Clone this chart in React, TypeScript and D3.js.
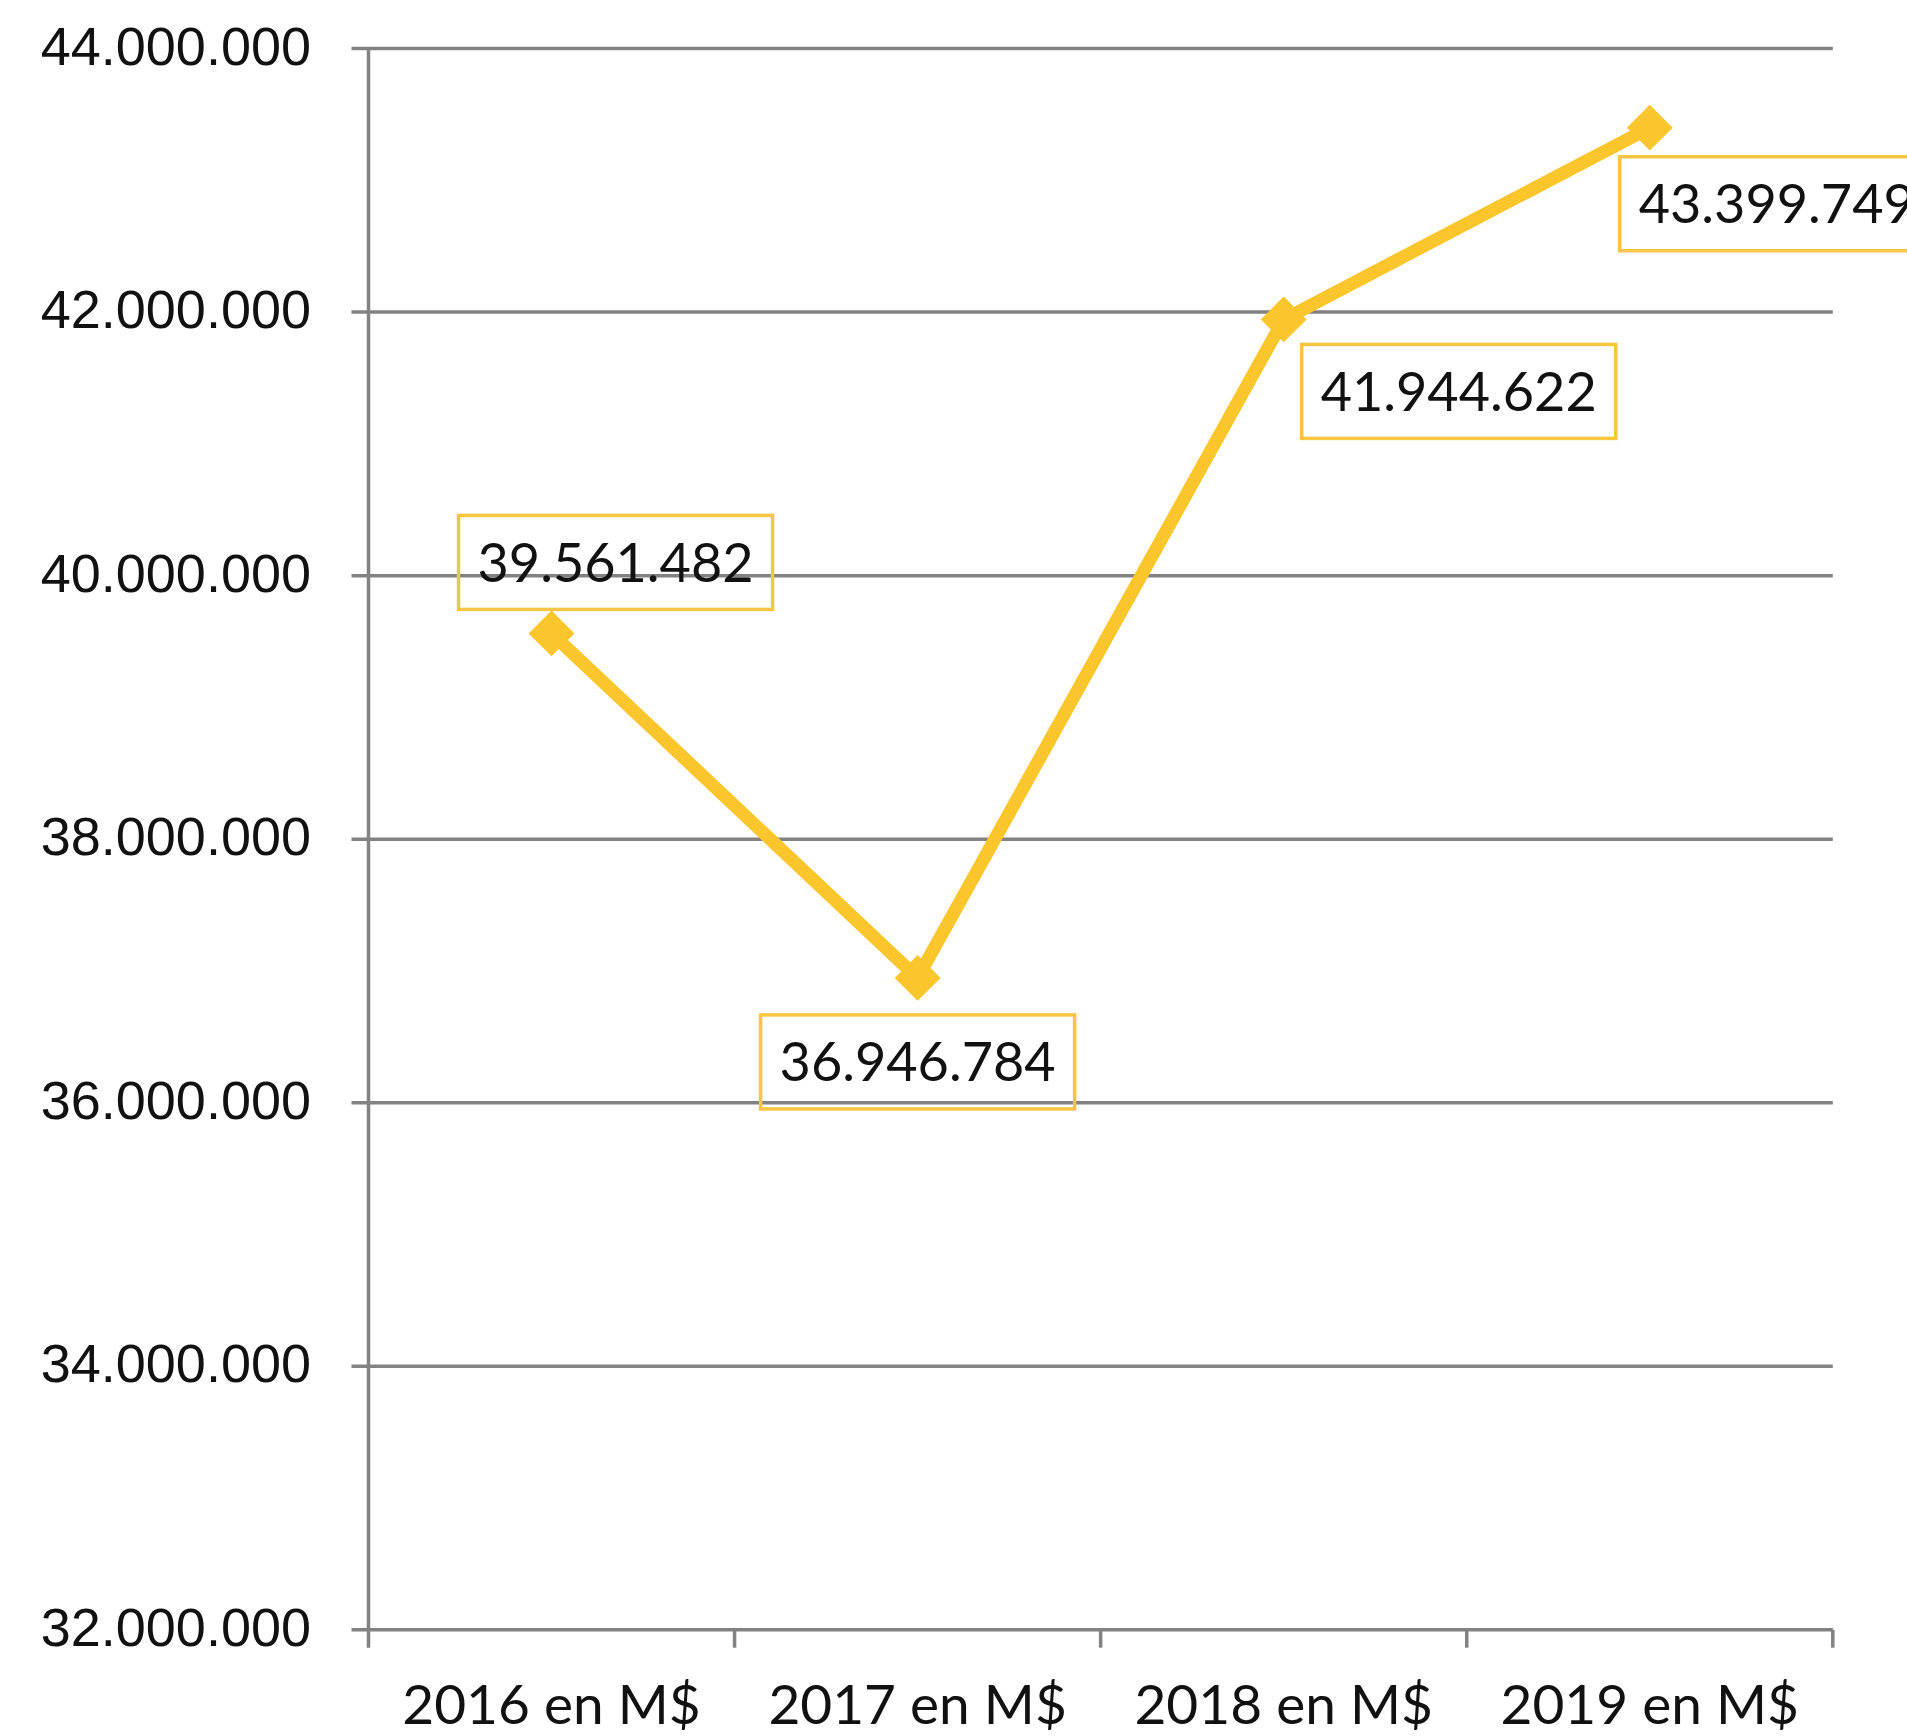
import React from 'react';
import * as d3 from 'd3';

// values
const categories = ['2016 en M$', '2017 en M$', '2018 en M$', '2019 en M$'];
const values = [39561482, 36946784, 41944622, 43399749];
const yTicks = [32000000, 34000000, 36000000, 38000000, 40000000, 42000000, 44000000];

// where each data label box sits relative to its point (layout only)
const labelDx = [64, 0, 175, 127];
const labelDy = [-71, 84, 72, 76];

const W = 1907;
const H = 1736;
const left = 368.5;
const right = 1832.8;
const top = 48.6;
const bottom = 1629.7;

const gold = '#FAC62C';
const grid = '#828282';

const locale = d3.formatLocale({ decimal: ',', thousands: '.', grouping: [3], currency: ['$', ''] });
const fmt = locale.format(',d');

const App = () => {
  const x = d3.scaleBand<string>().domain(categories).range([left, right]).padding(0);
  const y = d3.scaleLinear().domain([32000000, 44000000]).range([bottom, top]);
  const cx = (i: number) => (x(categories[i]) as number) + x.bandwidth() / 2;

  const line = d3.line<number>()
    .x((_, i) => cx(i))
    .y(d => y(d));

  const diamond = d3.symbol().type(d3.symbolSquare).size(1050)();

  const boxW = 314;
  const boxH = 94;

  return (
    <svg width={W} height={H} style={{ position: 'absolute', left: 0, top: 0, background: '#fff' }}>
      {/* gridlines + y ticks */}
      {yTicks.map(t => (
        <g key={t}>
          <line x1={left - 17} x2={right} y1={y(t)} y2={y(t)} stroke={grid} strokeWidth={3.5} />
          <text x={311} y={y(t)} dy="0.3em" textAnchor="end"
            style={{ fontFamily: '"Liberation Sans", Arial, sans-serif', fontSize: 54, fill: '#111' }}>
            {fmt(t)}
          </text>
        </g>
      ))}
      {/* y axis */}
      <line x1={left} x2={left} y1={top - 1.5} y2={bottom + 18} stroke={grid} strokeWidth={3.5} />
      {/* x axis ticks */}
      {categories.map(c => (
        <line key={'t' + c} x1={(x(c) as number) + x.bandwidth()} x2={(x(c) as number) + x.bandwidth()}
          y1={bottom} y2={bottom + 18} stroke={grid} strokeWidth={3.5} />
      ))}
      {categories.map((c, i) => (
        <text key={'l' + c} x={cx(i)} y={1724} textAnchor="middle"
          style={{ fontFamily: 'Lato, "Open Sans", sans-serif', fontSize: 55, fill: '#111' }}>
          {c}
        </text>
      ))}
      {/* series */}
      <path d={line(values) as string} fill="none" stroke={gold} strokeWidth={13} strokeLinejoin="round" />
      {values.map((v, i) => (
        <path key={'m' + i} d={diamond as string} fill={gold}
          transform={`translate(${cx(i)},${y(v)}) rotate(45)`} />
      ))}
      {/* data labels */}
      {values.map((v, i) => {
        const bx = cx(i) + labelDx[i];
        const by = y(v) + labelDy[i];
        return (
          <g key={'d' + i}>
            <rect x={bx - boxW / 2} y={by - boxH / 2} width={boxW} height={boxH}
              fill="none" stroke="#F6C542" strokeWidth={3.5} />
            <text x={bx} y={by} dy="0.36em" textAnchor="middle"
              style={{ fontFamily: 'Lato, "Open Sans", sans-serif', fontSize: 54, fill: '#111' }}>
              {fmt(v)}
            </text>
          </g>
        );
      })}
    </svg>
  );
};

export default App;
